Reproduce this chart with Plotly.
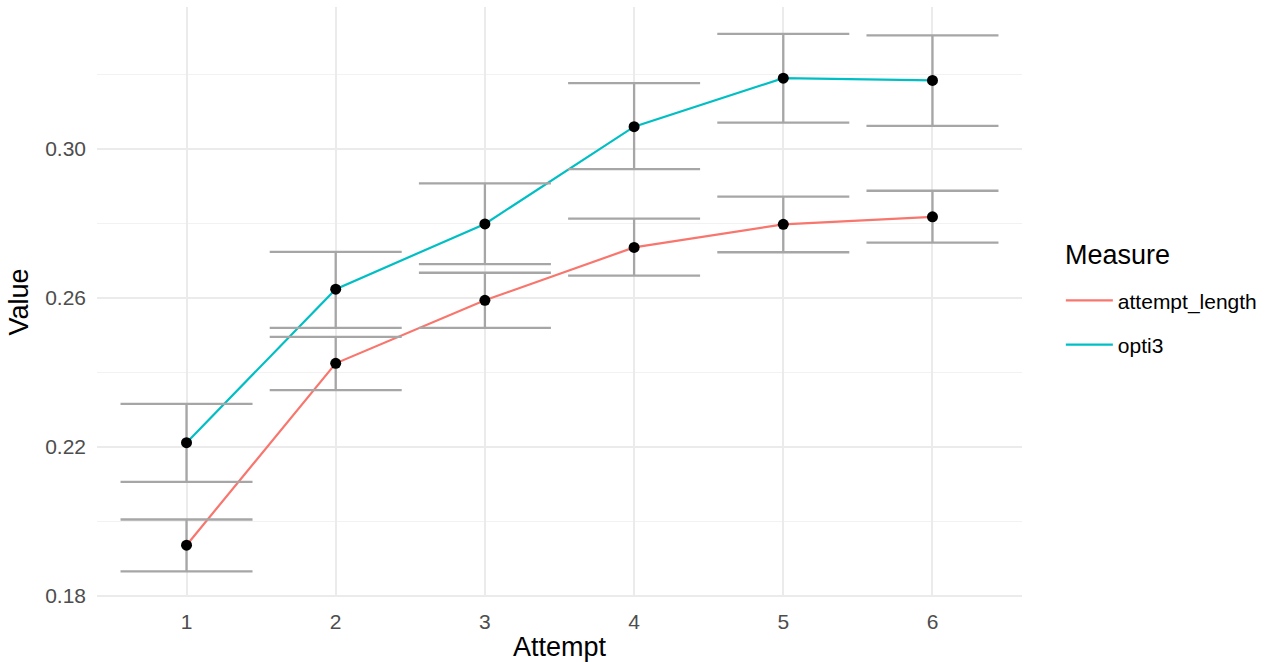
import plotly.graph_objects as go

attempts = [1, 2, 3, 4, 5, 6]

opti3_mean = [0.2211, 0.2623, 0.2798, 0.3059, 0.3189, 0.3183]
opti3_upper = [0.2315, 0.2723, 0.2907, 0.3176, 0.3308, 0.3304]
opti3_lower = [0.2106, 0.2519, 0.2690, 0.2945, 0.3070, 0.3061]

length_mean = [0.1936, 0.2424, 0.2593, 0.2735, 0.2797, 0.2817]
length_upper = [0.2005, 0.2495, 0.2667, 0.2812, 0.2871, 0.2887]
length_lower = [0.1866, 0.2352, 0.2519, 0.2659, 0.2722, 0.2748]

y_ticks = [0.18, 0.22, 0.26, 0.30]
y_tick_labels = ["0.18", "0.22", "0.26", "0.30"]
y_minor = [0.20, 0.24, 0.28, 0.32]

series = [
    ("attempt_length", "#F8766D", length_mean, length_upper, length_lower),
    ("opti3", "#00BFC4", opti3_mean, opti3_upper, opti3_lower),
]

FONT = "Liberation Sans, Arial, Helvetica, sans-serif"

fig = go.Figure()

# lines (legend entries)
for name, color, mean, up, lo in series:
    fig.add_trace(go.Scatter(
        x=attempts, y=mean, mode="lines", name=name, legendgroup=name,
        line=dict(color=color, width=2.2),
    ))

# error bars
for name, color, mean, up, lo in series:
    fig.add_trace(go.Scatter(
        x=attempts, y=mean, mode="markers", showlegend=False, hoverinfo="skip",
        marker=dict(size=1, color="rgba(0,0,0,0)"),
        error_y=dict(
            type="data", symmetric=False,
            array=[u - m for u, m in zip(up, mean)],
            arrayminus=[m - l for m, l in zip(mean, lo)],
            color="#A6A6A6", thickness=2.3, width=66,
        ),
    ))

# points
for name, color, mean, up, lo in series:
    fig.add_trace(go.Scatter(
        x=attempts, y=mean, mode="markers", showlegend=False,
        marker=dict(size=11, color="black"),
    ))

fig.update_layout(
    width=1273, height=662,
    margin=dict(l=97, r=251, t=7, b=65, autoexpand=False),
    paper_bgcolor="white", plot_bgcolor="white",
    font=dict(family=FONT, color="black"),
    legend=dict(
        font=dict(size=21, color="black"),
        x=1.042, xanchor="left", y=0.465, yanchor="middle",
        tracegroupgap=14, itemwidth=47,
        bgcolor="rgba(0,0,0,0)",
    ),
    annotations=[dict(
        text="Measure", xref="paper", yref="paper",
        x=1.0443, y=0.5797, xanchor="left", yanchor="middle",
        showarrow=False, font=dict(size=27, color="black"),
    )],
    xaxis=dict(
        range=[0.4, 6.6], tickvals=attempts, ticktext=[str(a) for a in attempts],
        showgrid=True, gridcolor="#EBEBEB", gridwidth=1.6,
        zeroline=False, showline=False, ticks="",
        tickfont=dict(size=21, color="#4D4D4D"), ticklabelstandoff=10,
        title=dict(text="Attempt", font=dict(size=27, color="black"), standoff=6),
    ),
    yaxis=dict(
        range=[0.1797, 0.3380], tickvals=y_ticks, ticktext=y_tick_labels,
        showgrid=True, gridcolor="#EBEBEB", gridwidth=1.6,
        zeroline=False, showline=False, ticks="",
        tickfont=dict(size=21, color="#4D4D4D"), ticklabelstandoff=10,
        minor=dict(tickvals=y_minor, showgrid=True, gridcolor="#F2F2F2", gridwidth=0.9, ticks=""),
        title=dict(text="Value", font=dict(size=27, color="black"), standoff=8),
    ),
)

fig.write_html("out.html")
